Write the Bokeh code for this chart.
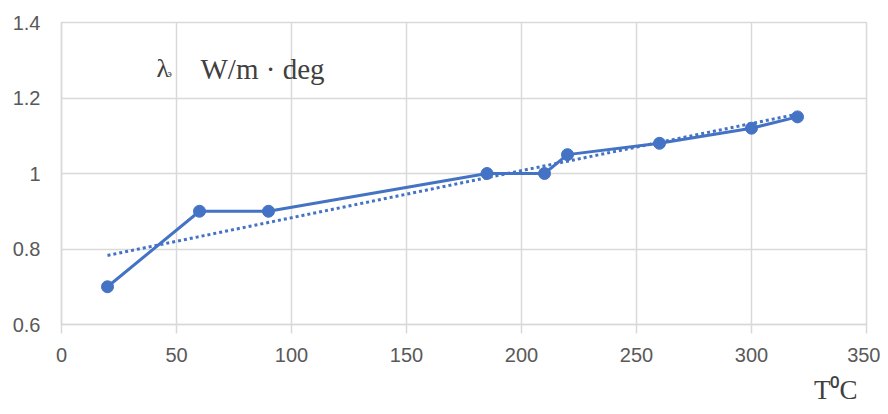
import numpy as np
from bokeh.plotting import figure
from bokeh.models import Range1d, FixedTicker, Label, ColumnDataSource, Title
from bokeh.embed import file_html
from bokeh.resources import INLINE

# data
temps = [20, 60, 90, 185, 210, 220, 260, 300, 320]
lam = [0.70, 0.90, 0.90, 1.00, 1.00, 1.05, 1.08, 1.12, 1.15]
x_ticks = [0, 50, 100, 150, 200, 250, 300, 350]
y_ticks = [0.6, 0.8, 1.0, 1.2, 1.4]
y_tick_labels = ["0.6", "0.8", "1", "1.2", "1.4"]

BLUE = "#4472C4"
GRID = "#d9d9d9"
TXT = "#595959"
DARK = "#404040"

p = figure(width=880, height=414, output_backend="svg", toolbar_location=None,
           x_range=Range1d(0, 350), y_range=Range1d(0.6, 1.4),
           min_border_left=61, min_border_right=14, min_border_top=22, min_border_bottom=90)
p.background_fill_color = "white"
p.border_fill_color = "white"
p.outline_line_color = GRID
p.outline_line_width = 1.5

p.xaxis.ticker = FixedTicker(ticks=x_ticks)
p.yaxis.ticker = FixedTicker(ticks=y_ticks)
p.yaxis.major_label_overrides = {t: s for t, s in zip(y_ticks, y_tick_labels)}
for ax in (p.xaxis[0], p.yaxis[0]):
    ax.axis_line_color = GRID
    ax.axis_line_width = 1.5
    ax.minor_tick_line_color = None
    ax.major_label_text_color = TXT
    ax.major_label_text_font = "Liberation Sans"
    ax.major_label_text_font_size = "20px"
p.xaxis.major_tick_line_color = GRID
p.xaxis.major_tick_line_width = 1.5
p.xaxis.major_tick_out = 9
p.xaxis.major_tick_in = 0
p.xaxis.major_label_standoff = 14
p.yaxis.major_tick_line_color = None
p.yaxis.major_label_standoff = 15

p.xgrid.grid_line_color = GRID
p.ygrid.grid_line_color = GRID
p.xgrid.grid_line_width = 1.5
p.ygrid.grid_line_width = 1.5

# linear trendline (least squares from the data)
k, b = np.polyfit(temps, lam, 1)
tx = [temps[0], temps[-1]]
ty = [k * tx[0] + b, k * tx[1] + b]
p.line(tx, ty, line_color=BLUE, line_width=3, line_dash="3 3")

src = ColumnDataSource(dict(x=temps, y=lam))
p.line("x", "y", source=src, line_color=BLUE, line_width=3)
p.scatter("x", "y", source=src, size=12, fill_color=BLUE, line_color=BLUE)

serif = "Liberation Serif"
# screen coordinates measured from the frame's bottom-left corner
p.add_layout(Label(x=95, y=256, x_units="screen", y_units="screen", text="λ",
                   text_font=serif, text_font_size="26px", text_color=DARK,
                   text_baseline="alphabetic"))
p.add_layout(Label(x=106, y=251, x_units="screen", y_units="screen", text="э",
                   text_font=serif, text_font_size="10px", text_color=DARK,
                   text_baseline="alphabetic"))
p.add_layout(Label(x=139, y=256, x_units="screen", y_units="screen", text="W/m · deg",
                   text_font=serif, text_font_size="29px", text_color=DARK,
                   text_baseline="alphabetic"))

t = Title(text="T⁰C", align="right", offset=9, standoff=17,
          text_font=serif, text_font_size="27px", text_color=DARK,
          text_font_style="normal")
p.add_layout(t, "below")

open("out.html", "w").write(file_html(p, INLINE))
